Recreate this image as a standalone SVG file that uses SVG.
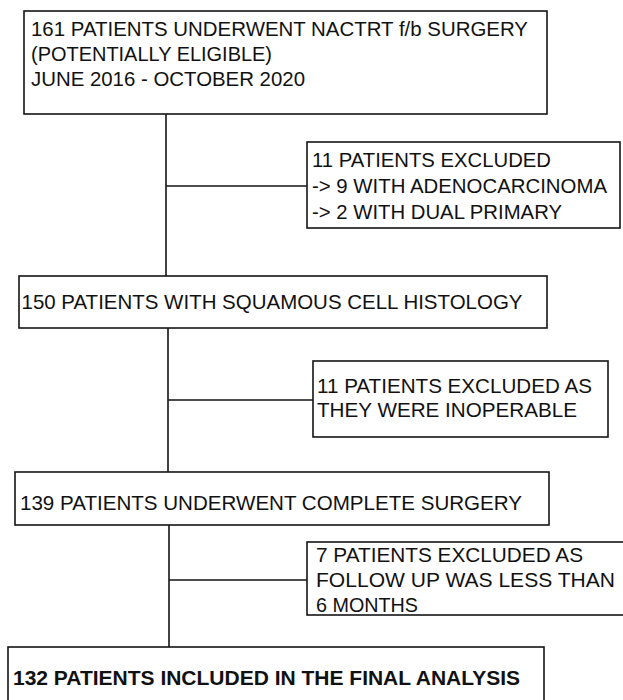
<svg xmlns="http://www.w3.org/2000/svg" width="623" height="700" viewBox="0 0 623 700">
<style>
.box{fill:#fff;stroke:#151515;stroke-width:1.6}
.t{font-family:"Liberation Sans",Arial,sans-serif;font-size:21px;fill:#111}
.b{font-weight:bold}
.c{stroke:#151515;stroke-width:1.6;fill:none}
</style>
<rect width="623" height="700" fill="#fff"/>
<g id="connectors">
<path class="c" d="M166 114V276M166 186H307"/>
<path class="c" d="M168 328V472M168 400H313"/>
<path class="c" d="M169 525V647M169 580H307"/>
</g>
<g id="n1">
<rect class="box" x="24" y="11" width="523" height="103"/>
<text class="t" x="31" y="36" textLength="497" lengthAdjust="spacingAndGlyphs">161 PATIENTS UNDERWENT NACTRT f/b SURGERY</text>
<text class="t" x="31" y="61" textLength="241" lengthAdjust="spacingAndGlyphs">(POTENTIALLY ELIGIBLE)</text>
<text class="t" x="31" y="86" textLength="274" lengthAdjust="spacingAndGlyphs">JUNE 2016 - OCTOBER 2020</text>
</g>
<g id="e1">
<rect class="box" x="307" y="142" width="313" height="86"/>
<text class="t" x="312" y="167" textLength="239" lengthAdjust="spacingAndGlyphs">11 PATIENTS EXCLUDED</text>
<text class="t" x="312" y="193" textLength="295" lengthAdjust="spacingAndGlyphs">-&gt; 9 WITH ADENOCARCINOMA</text>
<text class="t" x="312" y="219" textLength="250" lengthAdjust="spacingAndGlyphs">-&gt; 2 WITH DUAL PRIMARY</text>
</g>
<g id="n2">
<rect class="box" x="19" y="276" width="528" height="52"/>
<text class="t" x="21.5" y="309" textLength="501" lengthAdjust="spacingAndGlyphs">150 PATIENTS WITH SQUAMOUS CELL HISTOLOGY</text>
</g>
<g id="e2">
<rect class="box" x="313" y="361" width="295" height="76"/>
<text class="t" x="317" y="393" textLength="275" lengthAdjust="spacingAndGlyphs">11 PATIENTS EXCLUDED AS</text>
<text class="t" x="317" y="417" textLength="260" lengthAdjust="spacingAndGlyphs">THEY WERE INOPERABLE</text>
</g>
<g id="n3">
<rect class="box" x="15" y="472" width="534" height="53"/>
<text class="t" x="20" y="510" textLength="502" lengthAdjust="spacingAndGlyphs">139 PATIENTS UNDERWENT COMPLETE SURGERY</text>
</g>
<g id="e3">
<rect class="box" x="307" y="542" width="330" height="73"/>
<text class="t" x="316" y="562" textLength="267" lengthAdjust="spacingAndGlyphs">7 PATIENTS EXCLUDED AS</text>
<text class="t" x="316" y="587" textLength="299" lengthAdjust="spacingAndGlyphs">FOLLOW UP WAS LESS THAN</text>
<text class="t" x="316" y="612" textLength="102" lengthAdjust="spacingAndGlyphs">6 MONTHS</text>
</g>
<g id="n4">
<rect class="box" x="8" y="647" width="536" height="70"/>
<text class="t b" x="13" y="685" textLength="507" lengthAdjust="spacingAndGlyphs">132 PATIENTS INCLUDED IN THE FINAL ANALYSIS</text>
</g>
</svg>
